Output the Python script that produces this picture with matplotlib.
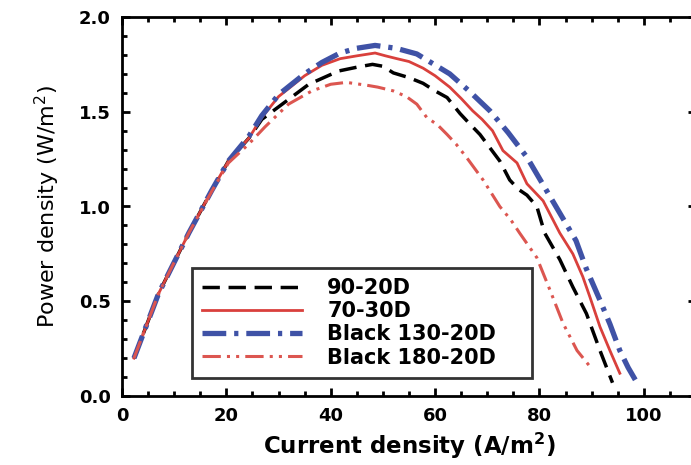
import matplotlib
matplotlib.use("Agg")
import matplotlib.pyplot as plt
from matplotlib.ticker import MultipleLocator

plt.rcParams['font.family'] = ['DejaVu Sans']

# data
x_9020 = [2.3, 7, 12.8, 17.2, 20.4, 24.3, 26.8, 30.7, 35.8, 41.5, 45, 48, 50, 52, 55,
          57.7, 60, 62.3, 64.8, 66.5, 68.6, 70.5, 72.4, 74.3, 76, 77.6, 79.5, 81,
          83.9, 86.4, 89, 91.6, 94]
y_9020 = [0.2, 0.54, 0.86, 1.085, 1.24, 1.36, 1.46, 1.54, 1.645, 1.715, 1.735, 1.75,
          1.74, 1.705, 1.68, 1.65, 1.61, 1.575, 1.49, 1.44, 1.38, 1.31, 1.24, 1.14,
          1.09, 1.06, 1.0, 0.86, 0.72, 0.575, 0.435, 0.24, 0.07]

x_7030 = [2.3, 7, 12.8, 17.2, 20.4, 24.3, 26.8, 30, 35, 38.3, 41.8, 45, 48.5, 50.5,
          52.7, 55, 57.7, 60, 62.8, 65, 67.2, 69, 71, 73, 75.7, 77.6, 80.7, 83.9,
          86.4, 88.3, 89.7, 91.6, 93.5, 95.4]
y_7030 = [0.2, 0.54, 0.86, 1.085, 1.24, 1.36, 1.47, 1.58, 1.69, 1.745, 1.78, 1.795,
          1.81, 1.795, 1.78, 1.765, 1.73, 1.69, 1.63, 1.57, 1.505, 1.46, 1.40, 1.295,
          1.23, 1.12, 1.03, 0.86, 0.75, 0.63, 0.52, 0.365, 0.24, 0.12]

x_13020 = [2.3, 7, 12.8, 17.2, 20.4, 24.3, 26.8, 30, 35, 38.3, 41.8, 45, 48.5, 52.5,
           56.5, 62.8, 66.5, 70.5, 74, 77.6, 82.3, 87, 89, 91.6, 93.5, 95.4, 97, 98.9]
y_13020 = [0.2, 0.54, 0.86, 1.085, 1.24, 1.37, 1.48, 1.59, 1.70, 1.76, 1.81, 1.835,
           1.85, 1.835, 1.805, 1.70, 1.61, 1.505, 1.39, 1.26, 1.04, 0.82, 0.67, 0.505,
           0.38, 0.24, 0.15, 0.06]

x_18020 = [2.3, 7, 12.8, 17.2, 20.4, 24.3, 27.4, 31.9, 36.4, 40, 43, 46.9, 49, 52,
           54.5, 56.5, 58.4, 60.5, 62.3, 64, 66, 69.2, 72.4, 74.5, 76.2, 79.5, 82,
           84.5, 87.2, 89.7]
y_18020 = [0.2, 0.54, 0.86, 1.08, 1.23, 1.33, 1.42, 1.54, 1.61, 1.645, 1.655, 1.64,
           1.63, 1.61, 1.58, 1.54, 1.47, 1.43, 1.38, 1.33, 1.26, 1.14, 1.0, 0.93, 0.86,
           0.73, 0.56, 0.385, 0.24, 0.155]

fig = plt.figure(figsize=(6.91, 4.65), dpi=100)
ax = fig.add_axes([122 / 691, 69 / 465, 574 / 691, 379 / 465])

ax.plot(x_9020, y_9020, color='black', lw=2.5, ls=(0, (5, 2.5)), label='90-20D')
ax.plot(x_7030, y_7030, color='#d9403c', lw=2, ls='-', label='70-30D')
ax.plot(x_13020, y_13020, color='#3f52a6', lw=3.8, ls=(0, (4.5, 1.5, 0.8, 1.5)),
        label='Black 130-20D')
ax.plot(x_18020, y_18020, color='#dc5650', lw=2.2, ls=(0, (6, 2, 1, 2, 1, 2)),
        label='Black 180-20D')

ax.set_xlim(0, 110)
ax.set_ylim(0, 2.0)
ax.xaxis.set_major_locator(MultipleLocator(20))
ax.xaxis.set_minor_locator(MultipleLocator(5))
ax.yaxis.set_major_locator(MultipleLocator(0.5))
ax.yaxis.set_minor_locator(MultipleLocator(0.1))
ax.tick_params(which='both', direction='in', top=True, right=True, width=2)
ax.tick_params(which='major', length=6, labelsize=13, pad=8)
ax.tick_params(which='minor', length=3.5)
ax.set_xticks([0, 20, 40, 60, 80, 100])
ax.set_yticks([0.0, 0.5, 1.0, 1.5, 2.0])
ax.set_yticklabels(['0.0', '0.5', '1.0', '1.5', '2.0'])
for lab in ax.get_xticklabels() + ax.get_yticklabels():
    lab.set_fontweight('bold')
for sp in ax.spines.values():
    sp.set_linewidth(2)

ax.set_xlabel('Current density (A/m$^\\mathbf{2}$)', fontsize=16.5, fontweight='bold',
              labelpad=4)
ax.set_ylabel('Power density (W/m$^2$)', fontsize=16, labelpad=12)

leg = ax.legend(loc='lower left', bbox_to_anchor=(13.4 / 110, 0.095 / 2.0,
                                                  65.1 / 110, 0.579 / 2.0),
                mode='expand', borderaxespad=0, fancybox=False, edgecolor='black',
                prop={'weight': 'bold', 'size': 15}, handlelength=4.8,
                labelspacing=0.15, borderpad=0.5, handletextpad=1.2)
leg.get_frame().set_linewidth(2)

fig.savefig('out.png', dpi=100)
